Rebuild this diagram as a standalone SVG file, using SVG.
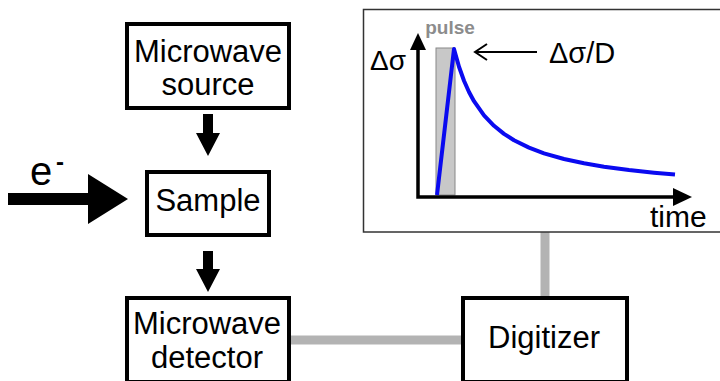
<svg xmlns="http://www.w3.org/2000/svg" width="720" height="381" viewBox="0 0 720 381">
<style>
.box{fill:#fff;stroke:#000;stroke-width:4}
.t{font-family:"Liberation Sans",Arial,sans-serif;font-size:31px;fill:#000;text-anchor:middle}
.l{text-anchor:start}
.wire{stroke:#b3b3b3;stroke-width:9;fill:none}
.ax{stroke:#000;stroke-width:3.5;fill:none}
</style>
<rect width="720" height="381" fill="#fff"/>
<g id="connectors">
<line class="wire" x1="290" y1="340" x2="462" y2="340"/>
<line class="wire" x1="545" y1="232" x2="545" y2="297"/>
<polygon points="203,114 213,114 213,133 220,133 208,156 196,133 203,133" fill="#000"/>
<polygon points="203,251 213,251 213,269 220,269 208,292 196,269 203,269" fill="#000"/>
<polygon points="8,193 88,193 88,174 128,199 88,224 88,205 8,205" fill="#000"/>
</g>
<g id="electron">
<text class="t l" x="30" y="185" style="font-size:40px">e</text>
<text class="t l" x="56" y="170" style="font-size:24px;font-weight:bold">-</text>
</g>
<g id="source">
<rect class="box" x="127" y="24" width="162" height="84"/>
<text class="t" x="208" y="62">Microwave</text>
<text class="t" x="208" y="95">source</text>
</g>
<g id="sample">
<rect class="box" x="147" y="172" width="122" height="63"/>
<text class="t" x="208" y="211">Sample</text>
</g>
<g id="detector">
<rect class="box" x="127" y="298" width="162" height="84"/>
<text class="t" x="207" y="334">Microwave</text>
<text class="t" x="207" y="368">detector</text>
</g>
<g id="digitizer">
<rect class="box" x="463" y="298" width="164" height="84"/>
<text class="t" x="544" y="348">Digitizer</text>
</g>
<g id="graph">
<rect x="363.5" y="9.5" width="360" height="222.5" fill="#fff" stroke="#333" stroke-width="1.5"/>
<rect x="436" y="48" width="19" height="147" fill="#c8c8c8" stroke="#888" stroke-width="1"/>
<text x="450" y="34" style="font-family:'Liberation Sans',Arial,sans-serif;font-size:19px;font-weight:bold;fill:#8c8c8c;text-anchor:middle">pulse</text>
<polyline class="ax" points="418,45 418,197 676,197"/>
<polygon points="410,50 418,33 426,50" fill="#000"/>
<polygon points="673,188 692,197 673,206" fill="#000"/>
<polyline fill="none" stroke="#0a0af0" stroke-width="4" stroke-linejoin="round" points="437,195 454,49 459,66.8 464,80.7 469,92 474,101.2 484,115.4 494,125.8 504,133.9 514,140.3 529,147.6 544,153.3 564,159 584,163.3 604,166.7 629,170.1 654,172.7 675,174.5"/>
<text class="t l" x="370" y="70" style="font-size:28px">Δσ</text>
<line x1="475" y1="52" x2="537" y2="52" stroke="#000" stroke-width="2"/>
<polyline points="487,44 475,52 487,60" fill="none" stroke="#000" stroke-width="2"/>
<text class="t l" x="549" y="63" style="font-size:29px">Δσ/D</text>
<text class="t l" x="650" y="227" style="font-size:30px">time</text>
</g>
</svg>
